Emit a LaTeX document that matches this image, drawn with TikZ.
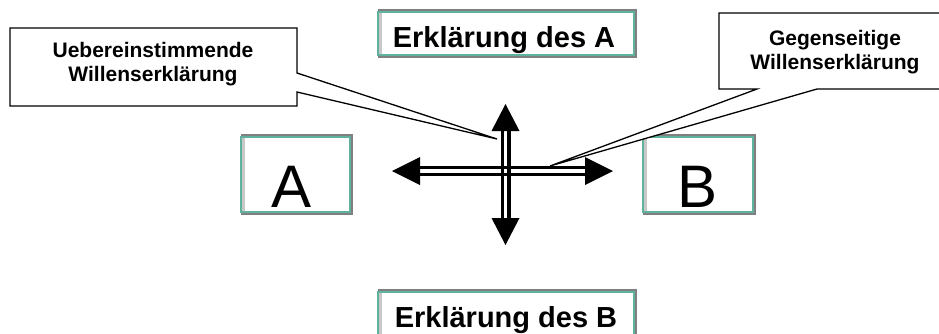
\documentclass[tikz,border=0pt]{standalone}
\usepackage{fontspec}
\setmainfont{Liberation Sans}
\usetikzlibrary{fit}
\definecolor{frameteal}{RGB}{96,178,158}
\definecolor{framegray}{RGB}{128,128,128}
\definecolor{framelight}{RGB}{200,200,200}

% grey bevel behind a framed box given by its corners
\newcommand\bevelback[4]{%
  \fill[framegray] (#1-0.5,#2-3) rectangle (#3+3,#4+3);}
% light inner strip along the left edge of a framed box
\newcommand\bevelleft[4]{%
  \fill[framelight] (#1+0.7,#2+0.7) rectangle (#1+3.5,#4-0.7);}

\begin{document}
\begin{tikzpicture}[x=1pt,y=-1pt,
  framebox/.style={draw=frameteal, line width=1.2pt, fill=white, inner sep=0pt},
  calloutshape/.style={draw=black, line width=1.3pt, fill=white, line join=miter},
  callouttext/.style={font=\fontsize{21}{24}\selectfont\bfseries, align=center, inner sep=0pt},
  titletext/.style={font=\fontsize{29}{34}\selectfont\bfseries, inner sep=0pt},
  lettertext/.style={font=\fontsize{60}{70}\selectfont, inner sep=0pt},
  edge/.style={draw=black, line width=3.4pt},
  head/.style={fill=black}
]
\useasboundingbox (0,0) rectangle (939,333);

% framed boxes
\bevelback{378}{12}{634}{55}
\node[framebox, fit={(378,12) (634,55)}] (boxEA) {};
\bevelleft{378}{12}{634}{55}
\node[titletext, anchor=base] (textEA) at (504,47) {Erklärung des A};

\bevelback{378}{292}{634}{345}
\node[framebox, fit={(378,292) (634,345)}] (boxEB) {};
\bevelleft{378}{292}{634}{345}
\node[titletext, anchor=base] (textEB) at (506,327) {Erklärung des B};

\bevelback{241}{137}{350}{212}
\node[framebox, fit={(241,137) (350,212)}] (boxA) {};
\bevelleft{241}{137}{350}{212}
\node[lettertext, anchor=base] (textA) at (292,207) {A};

\bevelback{643}{137}{753}{212}
\node[framebox, fit={(643,137) (753,212)}] (boxB) {};
\bevelleft{643}{137}{753}{212}
\node[lettertext, anchor=base] (textB) at (697,207) {B};

% callouts
\coordinate (tipL) at (497,139);
\coordinate (tipR) at (550,166);
\draw[calloutshape] (10,28) -- (297,28) -- (297,73) -- (tipL) -- (297,92)
  -- (297,106) -- (10,106) -- cycle;
\node[callouttext, anchor=base] (calloutL) at (153,81)
  {Uebereinstimmende\\Willenserklärung};
\draw[calloutshape] (719,13) -- (952,13) -- (952,89) -- (817,89) -- (tipR)
  -- (757,89) -- (719,89) -- cycle;
\node[callouttext, anchor=base] (calloutR) at (835,69)
  {Gegenseitige\\Willenserklärung};

% crossed double arrows: two parallel strokes per shaft, solid heads
\coordinate (up) at (505.5,104);
\coordinate (down) at (505.5,245);
\coordinate (left) at (392,171);
\coordinate (right) at (613,171);
\draw[edge] ([shift={(-3.3,26)}]up) -- ([shift={(-3.3,-26)}]down);
\draw[edge] ([shift={(3.3,26)}]up) -- ([shift={(3.3,-26)}]down);
\draw[edge] ([shift={(26,-3.3)}]left) -- ([shift={(-26,-3.3)}]right);
\draw[edge] ([shift={(26,3.3)}]left) -- ([shift={(-26,3.3)}]right);
\fill[head] (up) -- ([shift={(-14,27)}]up) -- ([shift={(14,27)}]up) -- cycle;
\fill[head] (down) -- ([shift={(-14,-27)}]down) -- ([shift={(14,-27)}]down) -- cycle;
\fill[head] (left) -- ([shift={(28,-14)}]left) -- ([shift={(28,14)}]left) -- cycle;
\fill[head] (right) -- ([shift={(-28,-14)}]right) -- ([shift={(-28,14)}]right) -- cycle;
\end{tikzpicture}
\end{document}
